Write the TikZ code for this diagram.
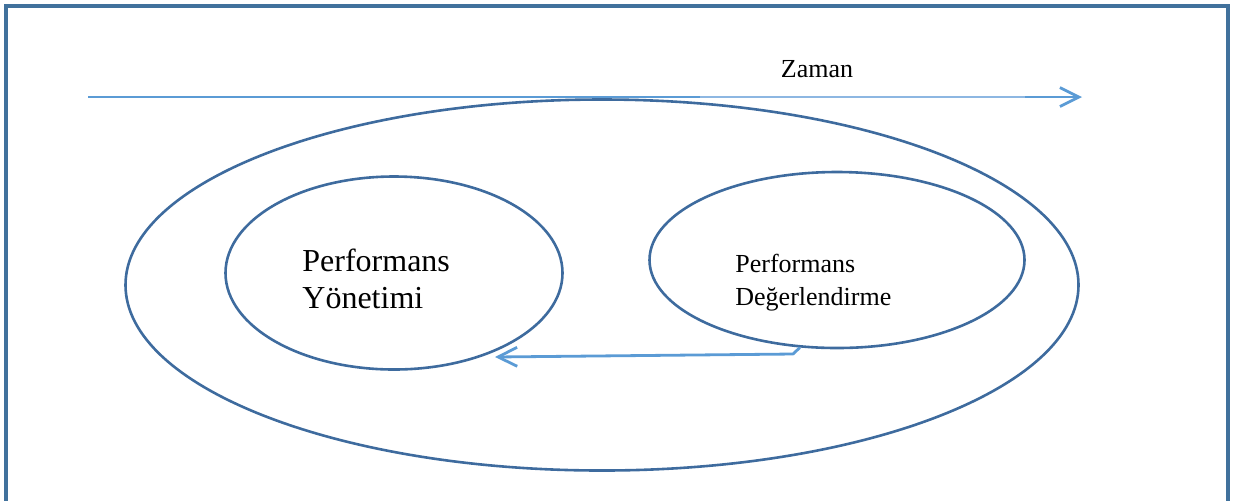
\documentclass[tikz,border=0pt]{standalone}
\usepackage{fontspec}
\setmainfont{Liberation Serif}
\usetikzlibrary{shapes.geometric,arrows.meta}
\definecolor{frameblue}{HTML}{41719C}
\definecolor{ringblue}{HTML}{3E6B9E}
\definecolor{arrowblue}{HTML}{5B9BD5}
\definecolor{thinblue}{HTML}{8DB7E2}
\tikzset{
  ring/.style={ellipse, draw=ringblue, line width=1.3pt, inner sep=0pt},
  flow/.style={draw=arrowblue, line width=1.4pt},
  chevron/.style={-{Straight Barb[length=9.5pt,width=9.5pt,line width=1.4pt]}},
  label/.style={inner sep=0pt, align=left, font=\fontsize{13}{16.5}\selectfont}
}
\begin{document}
\begin{tikzpicture}[x=0.5pt,y=-0.5pt]
  \useasboundingbox (0,0) rectangle (1235,500);
  % page frame, open at the bottom
  \draw[frameblue, line width=1.6pt] (6,520) -- (6,6) -- (1228,6) -- (1228,520);

  % time axis
  \coordinate (t0) at (88,97);
  \coordinate (t1) at (700,97);
  \coordinate (t2) at (1025,97);
  \coordinate (t3) at (1082,97);
  \draw[flow] (t0) -- (t1);
  \draw[thinblue, line width=0.6pt] (t1) -- (t2);
  \draw[flow, chevron] (t2) -- (t3);
  \node[label, anchor=base] (zaman) at (817,77) {Zaman};

  % nested ellipses
  \node[ring, minimum width=476.5pt, minimum height=185.5pt] (outer) at (602,285) {};
  \node[ring, minimum width=168.5pt, minimum height=96.5pt] (pm) at (394,273) {};
  \node[ring, minimum width=187.5pt, minimum height=88pt] (pd) at (837,260) {};

  % texts; base anchor sits on the last line
  \node[inner sep=0pt, anchor=base west, align=left,
        font=\fontsize{16}{18.5}\selectfont] (pmtext) at (302,308)
        {Performans\\Yönetimi};
  \node[label, anchor=base west] (pdtext) at (735,305)
        {Performans\\Değerlendirme};

  % feedback from evaluation to management
  \coordinate (hook) at (793,354);
  \coordinate (tip) at (495,357);
  \draw[flow, chevron, line join=round] (pd.247) -- (hook) -- (tip);
\end{tikzpicture}
\end{document}
